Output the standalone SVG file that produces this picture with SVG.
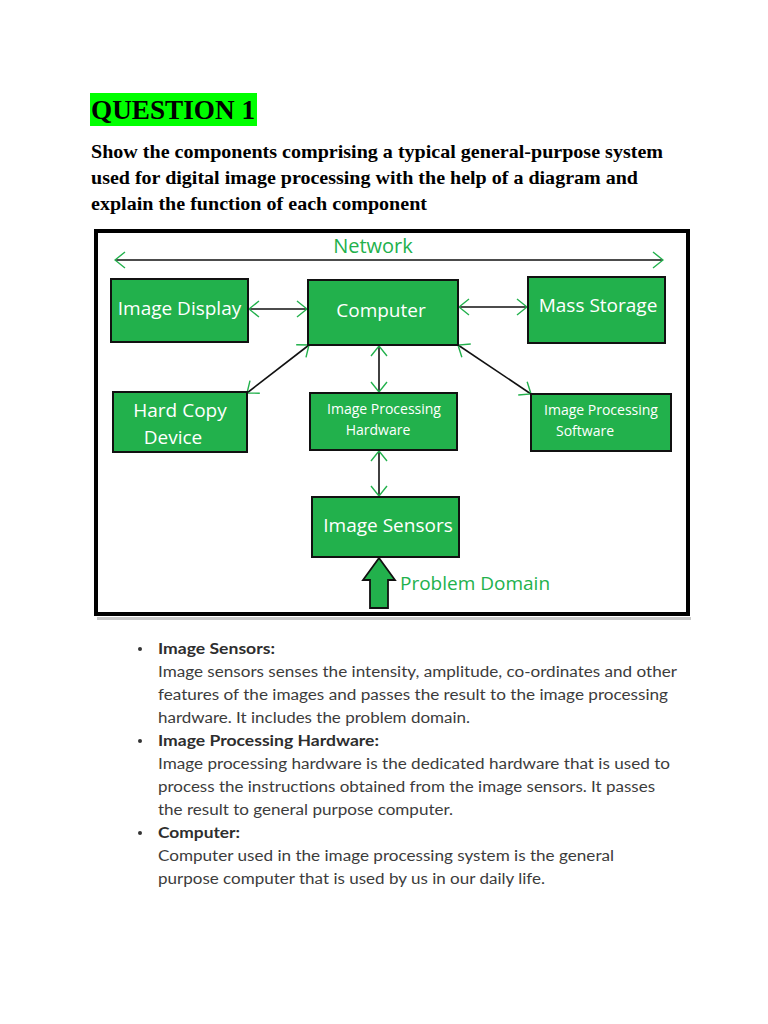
<svg xmlns="http://www.w3.org/2000/svg" width="768" height="1024" viewBox="0 0 768 1024">
<style>
.box{fill:#22b14c;stroke:#111;stroke-width:2}
.bt{fill:#fff;font-family:"Open Sans","Noto Sans",sans-serif;text-anchor:middle}
.con{stroke:#111;stroke-width:1.6;fill:none;marker-start:url(#ah);marker-end:url(#ah)}
.q{font-family:"Liberation Serif",serif;font-weight:bold;fill:#000}
.body{font-family:"Lato","Noto Sans",sans-serif;font-size:15.5px;fill:#3c3c3c}
.bh{font-weight:bold;fill:#2e2e2e}
.gt{fill:#22b14c;font-family:"Open Sans","Noto Sans",sans-serif}
</style>
<defs>
<marker id="ah" viewBox="-1 -9 12 18" refX="10" refY="0" markerWidth="12" markerHeight="18" markerUnits="userSpaceOnUse" orient="auto-start-reverse">
<path d="M0,-8 L10,0 L0,8" fill="none" stroke="#22b14c" stroke-width="1.4"/>
</marker>
</defs>
<rect width="768" height="1024" fill="#fff"/>
<g id="header">
<rect x="90" y="93" width="167" height="33" fill="#00ff00"/>
<text class="q" x="91" y="119" font-size="28" textLength="164" lengthAdjust="spacingAndGlyphs">QUESTION 1</text>
<text class="q" x="91" y="158" font-size="19" textLength="572" lengthAdjust="spacingAndGlyphs">Show the components comprising a typical general-purpose system</text>
<text class="q" x="91" y="184" font-size="19" textLength="547" lengthAdjust="spacingAndGlyphs">used for digital image processing with the help of a diagram and</text>
<text class="q" x="91" y="210" font-size="19" textLength="336" lengthAdjust="spacingAndGlyphs">explain the function of each component</text>
</g>
<g id="frame">
<rect x="97" y="617" width="594" height="3" fill="#c8c8c8"/>
<rect x="96" y="231" width="592" height="383" fill="#fff" stroke="#000" stroke-width="4"/>
</g>
<g id="connectors">
<line class="con" x1="115" y1="260" x2="663" y2="260"/>
<line class="con" x1="249" y1="309" x2="307" y2="309"/>
<line class="con" x1="459" y1="307" x2="527" y2="307"/>
<line class="con" x1="309" y1="345" x2="247" y2="393"/>
<line class="con" x1="379" y1="346" x2="379" y2="392"/>
<line class="con" x1="458" y1="345" x2="531" y2="394"/>
<line class="con" x1="379" y1="451" x2="379" y2="496"/>
</g>
<g id="network">
<text class="gt" x="373" y="253" font-size="20" text-anchor="middle">Network</text>
</g>
<g id="image-display">
<rect class="box" x="111" y="279" width="137" height="63"/>
<text class="bt" x="179.5" y="315" font-size="19">Image Display</text>
</g>
<g id="computer">
<rect class="box" x="308" y="280" width="150" height="65"/>
<text class="bt" x="381" y="317" font-size="19">Computer</text>
</g>
<g id="mass-storage">
<rect class="box" x="528" y="277" width="137" height="66"/>
<text class="bt" x="598" y="312" font-size="19">Mass Storage</text>
</g>
<g id="hard-copy">
<rect class="box" x="113" y="392" width="134" height="60"/>
<text class="bt" x="180" y="417" font-size="19">Hard Copy</text>
<text class="bt" x="173" y="444" font-size="19">Device</text>
</g>
<g id="ip-hardware">
<rect class="box" x="310" y="393" width="147" height="57"/>
<text class="bt" x="384" y="414" font-size="14">Image Processing</text>
<text class="bt" x="378" y="435" font-size="14">Hardware</text>
</g>
<g id="ip-software">
<rect class="box" x="531" y="394" width="140" height="57"/>
<text class="bt" x="601" y="415" font-size="14">Image Processing</text>
<text class="bt" x="585" y="436" font-size="14">Software</text>
</g>
<g id="image-sensors">
<rect class="box" x="312" y="497" width="147" height="60"/>
<text class="bt" x="388" y="532" font-size="19">Image Sensors</text>
</g>
<g id="problem-domain">
<path d="M379,558 L395,580 L388,580 L388,608 L370,608 L370,580 L363,580 Z" fill="#22b14c" stroke="#111" stroke-width="1.8"/>
<text class="gt" x="400" y="590" font-size="19">Problem Domain</text>
</g>
<g id="explanations" class="body">
<circle cx="140" cy="649" r="2" fill="#333"/>
<text class="bh" x="158" y="654" textLength="117" lengthAdjust="spacingAndGlyphs">Image Sensors:</text>
<text x="158" y="677" textLength="519" lengthAdjust="spacingAndGlyphs">Image sensors senses the intensity, amplitude, co-ordinates and other</text>
<text x="158" y="700" textLength="510" lengthAdjust="spacingAndGlyphs">features of the images and passes the result to the image processing</text>
<text x="158" y="723" textLength="312" lengthAdjust="spacingAndGlyphs">hardware. It includes the problem domain.</text>
<circle cx="140" cy="741" r="2" fill="#333"/>
<text class="bh" x="158" y="746" textLength="221" lengthAdjust="spacingAndGlyphs">Image Processing Hardware:</text>
<text x="158" y="769" textLength="512" lengthAdjust="spacingAndGlyphs">Image processing hardware is the dedicated hardware that is used to</text>
<text x="158" y="792" textLength="497" lengthAdjust="spacingAndGlyphs">process the instructions obtained from the image sensors. It passes</text>
<text x="158" y="815" textLength="295" lengthAdjust="spacingAndGlyphs">the result to general purpose computer.</text>
<circle cx="140" cy="833" r="2" fill="#333"/>
<text class="bh" x="158" y="838" textLength="82" lengthAdjust="spacingAndGlyphs">Computer:</text>
<text x="158" y="861" textLength="456" lengthAdjust="spacingAndGlyphs">Computer used in the image processing system is the general</text>
<text x="158" y="884" textLength="387" lengthAdjust="spacingAndGlyphs">purpose computer that is used by us in our daily life.</text>
</g>
</svg>
